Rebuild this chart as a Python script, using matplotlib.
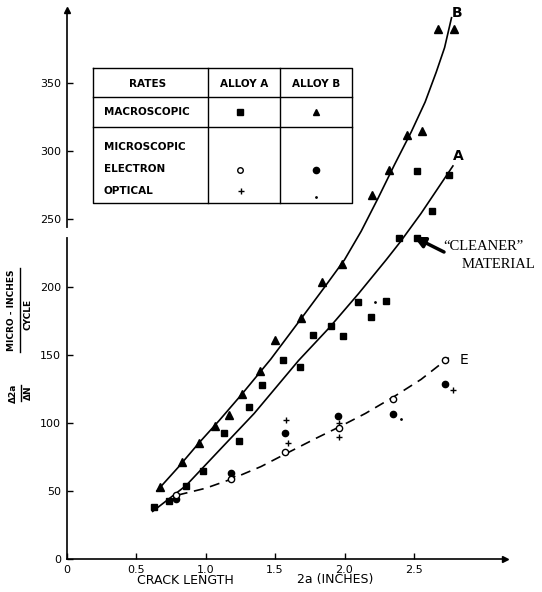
import matplotlib.pyplot as plt

# --- data ---
# macroscopic, alloy B (triangles)
tri_x = [0.67, 0.83, 0.95, 1.07, 1.17, 1.26, 1.39, 1.50, 1.69, 1.84, 1.98,
         2.20, 2.32, 2.45, 2.56, 2.67, 2.79]
tri_y = [53, 71, 85, 98, 106, 121, 138, 161, 177, 204, 217,
         268, 286, 312, 315, 390, 390]
# macroscopic, alloy A (squares)
sq_x = [0.63, 0.74, 0.86, 0.98, 1.13, 1.24, 1.31, 1.41, 1.56, 1.68, 1.77,
        1.90, 1.99, 2.10, 2.19, 2.30, 2.39, 2.52, 2.52, 2.63, 2.75]
sq_y = [38, 43, 54, 65, 93, 87, 112, 128, 146, 141, 165,
        171, 164, 189, 178, 190, 236, 236, 285, 256, 282]
# microscopic electron, alloy A (open circles) / alloy B (filled circles)
ea_x = [0.79, 1.18, 1.57, 1.96, 2.35, 2.72]
ea_y = [47, 58.6, 79, 96, 118, 146]
eb_x = [0.79, 1.18, 1.57, 1.95, 2.35, 2.72]
eb_y = [43.9, 63.5, 92.4, 105, 106.4, 128.7]
# microscopic optical, alloy A (plus) / alloy B (tiny dot)
oa_x = [1.19, 1.58, 1.59, 1.96, 1.96, 2.78]
oa_y = [61, 102, 85, 100, 89.5, 124]
ob_x = [2.22, 2.41]
ob_y = [189, 103]

# faired curves
curve_b_x = [0.65, 0.80, 0.95, 1.10, 1.26, 1.47, 1.69, 1.85, 2.00, 2.12,
             2.24, 2.36, 2.48, 2.58, 2.66, 2.72, 2.77]
curve_b_y = [50, 67, 85, 102, 121, 147, 177, 199, 220, 241,
             265, 290, 314, 336, 358, 376, 398]
curve_a_x = [0.62, 0.86, 1.10, 1.35, 1.67, 1.89, 2.10, 2.30, 2.40, 2.55, 2.78]
curve_a_y = [35, 54, 80, 107, 146, 170, 195, 220, 233, 254, 289]
curve_e_x = [0.80, 1.00, 1.18, 1.40, 1.57, 1.80, 1.96, 2.15, 2.35, 2.55, 2.75]
curve_e_y = [47, 52, 58.5, 68, 77, 89, 97, 107, 119, 132, 148]

xticks = [0, 0.5, 1.0, 1.5, 2.0, 2.5]
xlabels = ['0', '0.5', '1.0', '1.5', '2.0', '2.5']
yticks = [0, 50, 100, 150, 200, 250, 300, 350]

W, H = 542, 592
fig = plt.figure(figsize=(W / 100, H / 100), dpi=100)
px0, px1, py0, py1 = 66.5, 505, 559, 10
ax = fig.add_axes([px0 / W, 1 - py0 / H, (px1 - px0) / W, (py0 - py1) / H])
ax.set_xlim(0, (px1 - px0) / 139.0)
ax.set_ylim(0, (py0 - py1) / 1.36)

for s in ['top', 'right']:
    ax.spines[s].set_visible(False)
for s in ['left', 'bottom']:
    ax.spines[s].set_linewidth(1.2)
ax.plot(0, 1, '^k', ms=5, transform=ax.transAxes, clip_on=False)
ax.plot(1, 0, '>k', ms=5, transform=ax.transAxes, clip_on=False)
# small break in the y axis
ax.plot([0, 0], [238, 242], color='white', lw=3, clip_on=False, zorder=5)

ax.set_xticks(xticks)
ax.set_xticklabels(xlabels)
ax.set_yticks(yticks)
ax.tick_params(direction='in', length=4, width=1, labelsize=8, pad=4)

ax.plot(curve_b_x, curve_b_y, color='black', lw=1.2)
ax.plot(curve_a_x, curve_a_y, color='black', lw=1.2)
ax.plot(curve_e_x, curve_e_y, color='black', lw=1.2, dashes=(6, 4))

ax.plot(tri_x, tri_y, '^', color='black', ms=5.5, ls='none', zorder=4)
ax.plot(sq_x, sq_y, 's', color='black', ms=4.3, ls='none', zorder=4)
ax.plot(eb_x, eb_y, 'o', color='black', ms=4.5, ls='none', zorder=4)
ax.plot(ea_x, ea_y, 'o', mfc='white', mec='black', mew=1, ms=4.5, ls='none', zorder=5)
ax.plot(oa_x, oa_y, '+', color='black', mew=1, ms=5, ls='none', zorder=4)
ax.plot(ob_x, ob_y, '.', color='black', ms=2, ls='none', zorder=4)

# overlay in pixel coordinates for the table and labels
ov = fig.add_axes([0, 0, 1, 1])
ov.set_xlim(0, W)
ov.set_ylim(H, 0)
ov.axis('off')

# legend table
tl, tr, tt, tb = 93, 352, 68, 203
ov.plot([tl, tr, tr, tl, tl], [tt, tt, tb, tb, tt], color='black', lw=1)
for yy in [97, 127]:
    ov.plot([tl, tr], [yy, yy], color='black', lw=1)
for xx in [208, 280]:
    ov.plot([xx, xx], [tt, tb], color='black', lw=1)
tf = dict(fontsize=7.5, fontweight='bold', va='center')
ov.text(148, 84, 'RATES', ha='center', **tf)
ov.text(244, 84, 'ALLOY A', ha='center', **tf)
ov.text(316, 84, 'ALLOY B', ha='center', **tf)
ov.text(104, 112, 'MACROSCOPIC', ha='left', **tf)
ov.text(104, 147, 'MICROSCOPIC', ha='left', **tf)
ov.text(104, 169, 'ELECTRON', ha='left', **tf)
ov.text(104, 191, 'OPTICAL', ha='left', **tf)
ov.plot(240, 112, 's', color='black', ms=4)
ov.plot(316, 112, '^', color='black', ms=4.5)
ov.plot(240, 170, 'o', mfc='white', mec='black', mew=1, ms=4)
ov.plot(316, 170, 'o', color='black', ms=4.5)
ov.plot(241, 191, '+', color='black', mew=1, ms=5)
ov.plot(316, 197, '.', color='black', ms=2)

# curve letters
ov.text(457, 13, 'B', fontsize=10, fontweight='bold', ha='center', va='center')
ov.text(458, 156, 'A', fontsize=10, fontweight='bold', ha='center', va='center')
ov.text(464, 360, 'E', fontsize=10, ha='center', va='center')

# "cleaner" note
ov.annotate('', xy=(414, 237), xytext=(444, 252),
            arrowprops=dict(arrowstyle='-|>', color='black', lw=2.5,
                            mutation_scale=16, shrinkA=0, shrinkB=0))
ov.text(443, 246, '\u201cCLEANER\u201d', family='Liberation Serif', fontsize=10.5,
        ha='left', va='center')
ov.text(462, 265, 'MATERIAL', family='Liberation Serif', fontsize=10.5,
        ha='left', va='center')

# axis labels
xl = dict(fontsize=9, va='center')
ov.text(137, 580, 'CRACK LENGTH', ha='left', **xl)
ov.text(297, 580, '2a (INCHES)', ha='left', **xl)

yl = dict(fontsize=6.5, fontweight='bold', rotation=90, ha='center', va='center')
ov.text(12, 310, 'MICRO - INCHES', **yl)
ov.plot([19.5, 19.5], [268, 352], color='black', lw=1)
ov.text(28, 314, 'CYCLE', **yl)
ov.text(13, 393, '\u03942a', **yl)
ov.plot([20.5, 20.5], [385, 401], color='black', lw=1)
ov.text(28, 393, '\u0394N', **yl)

fig.savefig('out.png', dpi=100)
